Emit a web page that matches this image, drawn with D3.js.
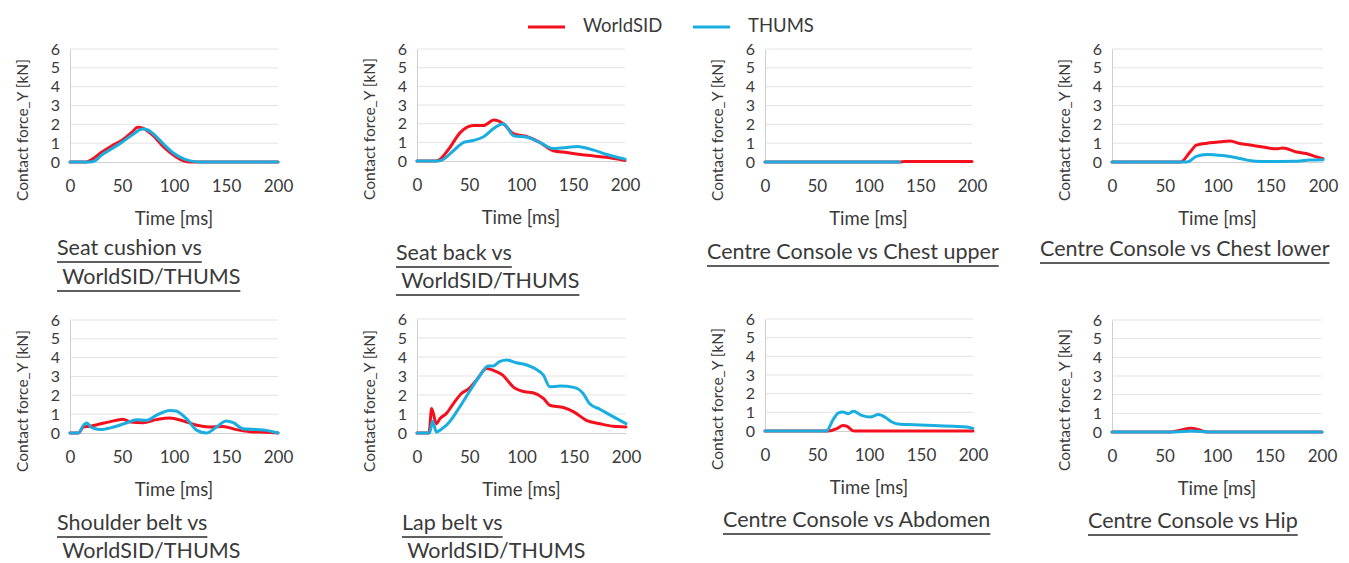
<!DOCTYPE html>
<html><head><meta charset="utf-8">
<script src="https://cdn.jsdelivr.net/npm/d3@7/dist/d3.min.js"></script>
<style>
html,body{margin:0;padding:0;background:#fff;}
svg text{font-family:Lato, "Open Sans", sans-serif;fill:#3a3a3a;}
</style></head>
<body>
<svg id="chart" width="1349" height="563"></svg>
<script>
// ---- data ----
const seriesNames = ["WorldSID", "THUMS"];
const seriesColors = ["#f5101e", "#1aaee0"];
const xTicks = [0, 50, 100, 150, 200];
const yTicks = [0, 1, 2, 3, 4, 5, 6];
const xLabel = "Time [ms]";
const yLabel = "Contact force_Y [kN]";

const seatCushionWorldSID = [[0,0],[15,0],[20,0.1],[30,0.5],[40,0.85],[50,1.15],[60,1.6],[65,1.85],[70,1.8],[80,1.4],[90,0.8],[100,0.35],[110,0.05],[115,0],[200,0]];
const seatCushionTHUMS = [[0,0],[20,0],[25,0.1],[30,0.35],[40,0.7],[50,1.05],[60,1.45],[70,1.75],[75,1.7],[80,1.5],[90,0.95],[100,0.45],[110,0.15],[120,0.02],[125,0],[200,0]];

const seatBackWorldSID = [[0,0],[18,0],[21,0.05],[30,0.6],[42,1.55],[54,1.9],[64,1.9],[74,2.2],[83,2.0],[93,1.45],[106,1.3],[118,1.0],[131,0.55],[144,0.45],[157,0.35],[170,0.27],[182,0.2],[200,0.03]];
const seatBackTHUMS = [[0,0],[20,0],[24,0.05],[35,0.55],[45,1.0],[54,1.1],[64,1.3],[74,1.75],[83,2.0],[93,1.35],[106,1.27],[118,1.0],[131,0.67],[144,0.72],[154,0.78],[170,0.58],[182,0.36],[200,0.1]];

const chestUpperWorldSID = [[0,0],[130,0],[135,0.02],[200,0.02]];
const chestUpperTHUMS = [[0,0],[130,0]];

const chestLowerWorldSID = [[0,0],[65,0],[74,0.53],[80,0.9],[90,1.0],[99,1.05],[112,1.12],[121,0.98],[131,0.9],[143,0.8],[156,0.7],[162,0.75],[175,0.53],[184,0.45],[194,0.27],[200,0.18]];
const chestLowerTHUMS = [[0,0],[71,0],[80,0.3],[90,0.4],[105,0.34],[118,0.23],[128,0.1],[143,0.02],[172,0.04],[187,0.1],[200,0.12]];

const shoulderBeltWorldSID = [[0,0],[8,0],[13,0.32],[18,0.35],[26,0.44],[38,0.59],[51,0.73],[58,0.59],[70,0.55],[83,0.71],[96,0.8],[109,0.64],[122,0.41],[134,0.32],[147,0.35],[160,0.18],[173,0.07],[189,0.04],[200,0]];
const shoulderBeltTHUMS = [[0,0],[8,0],[13,0.41],[16,0.53],[21,0.28],[29,0.18],[42,0.32],[54,0.53],[64,0.71],[74,0.68],[83,0.94],[96,1.2],[102,1.17],[112,0.76],[122,0.14],[131,0],[141,0.32],[150,0.64],[157,0.55],[166,0.23],[179,0.18],[189,0.14],[200,0]];

const lapBeltWorldSID = [[0,0],[11.5,0],[14,1.29],[18.5,0.49],[22,0.76],[28,1.02],[36,1.64],[42.5,2.08],[50,2.35],[57,2.79],[66.5,3.4],[73,3.3],[82,3.05],[92,2.43],[103,2.17],[111,2.12],[121,1.82],[127,1.46],[140,1.34],[150,1.11],[162,0.67],[175,0.49],[188,0.35],[200,0.32]];
const lapBeltTHUMS = [[0,0],[12,0],[15,0.62],[18.5,0.05],[23,0.18],[31,0.58],[41,1.38],[50,2.17],[60,3.0],[68,3.53],[73,3.53],[79,3.76],[86,3.84],[95,3.7],[105,3.58],[114,3.35],[121,3.05],[127,2.43],[137,2.47],[150,2.4],[159,2.08],[165,1.55],[175,1.25],[188,0.85],[200,0.49]];

const abdomenWorldSID = [[0,0],[61,0],[69,0.13],[75,0.3],[79,0.25],[83.5,0.04],[86,0],[200,0]];
const abdomenTHUMS = [[0,0],[59,0],[66,0.66],[70.6,0.97],[75,1.02],[80,0.93],[85,1.06],[93,0.84],[101,0.75],[109,0.88],[116,0.72],[122,0.48],[130,0.36],[143,0.34],[162,0.3],[181,0.25],[194,0.22],[200,0.14]];

const hipWorldSID = [[0,0],[56,0],[65,0.1],[75,0.2],[83,0.12],[90,0],[200,0]];
const hipTHUMS = [[0,0],[60,0],[75,0.05],[88,0.02],[95,0],[200,0]];

const panelTitles = [
  ["Seat cushion vs", " WorldSID/THUMS"],
  ["Seat back vs", " WorldSID/THUMS"],
  ["Centre Console vs Chest upper"],
  ["Centre Console vs Chest lower"],
  ["Shoulder belt vs", " WorldSID/THUMS"],
  ["Lap belt vs", " WorldSID/THUMS"],
  ["Centre Console vs Abdomen"],
  ["Centre Console vs Hip"]
];
const panelSeries = [
  [seatCushionWorldSID, seatCushionTHUMS],
  [seatBackWorldSID, seatBackTHUMS],
  [chestUpperWorldSID, chestUpperTHUMS],
  [chestLowerWorldSID, chestLowerTHUMS],
  [shoulderBeltWorldSID, shoulderBeltTHUMS],
  [lapBeltWorldSID, lapBeltTHUMS],
  [abdomenWorldSID, abdomenTHUMS],
  [hipWorldSID, hipTHUMS]
];

// ---- layout ----
const layout = [
  {x0:70,  x1:278,  y0:162, y6:49,  tx:[57,57],   ty:[250,279]},
  {x0:417, x1:625,  y0:161, y6:49,  tx:[396,396], ty:[255,283]},
  {x0:765, x1:972,  y0:162, y6:49,  tx:[707],     ty:[254]},
  {x0:1112,x1:1323, y0:162, y6:49,  tx:[1040],    ty:[251]},
  {x0:70,  x1:278,  y0:433, y6:320, tx:[57,57],   ty:[525,553]},
  {x0:417, x1:626,  y0:433, y6:319, tx:[402,402], ty:[525,553]},
  {x0:765, x1:973,  y0:431, y6:319, tx:[723],     ty:[522]},
  {x0:1112,x1:1322, y0:432, y6:320, tx:[1088],    ty:[523]}
];

const svg = d3.select("#chart");

layout.forEach((L, i) => {
  const x = d3.scaleLinear().domain([0, 200]).range([L.x0, L.x1]);
  const y = d3.scaleLinear().domain([0, 6]).range([L.y0, L.y6]);
  const g = svg.append("g");

  // gridlines
  g.selectAll("line.grid").data(yTicks.filter(d => d > 0)).join("line")
    .attr("x1", L.x0).attr("x2", L.x1)
    .attr("y1", d => y(d)).attr("y2", d => y(d))
    .attr("stroke", "#e3e3e3").attr("stroke-width", 1);

  // y axis
  const ya = g.append("g").attr("transform", `translate(${L.x0},0)`)
    .call(d3.axisLeft(y).tickValues(yTicks).tickSize(0).tickPadding(10).tickFormat(d3.format("d")));
  ya.select(".domain").attr("stroke", "#cfcfcf");
  ya.selectAll("text").style("font-size", "16px").attr("fill", "#3a3a3a");

  // x axis
  const xa = g.append("g").attr("transform", `translate(0,${L.y0})`)
    .call(d3.axisBottom(x).tickValues(xTicks).tickSize(0).tickPadding(18));
  xa.select(".domain").attr("stroke", "#cfcfcf");
  xa.selectAll("text").style("font-size", "17px").attr("fill", "#3a3a3a");

  // axis titles
  g.append("text").attr("x", (L.x0 + L.x1) / 2).attr("y", L.y0 + 58)
    .attr("text-anchor", "middle").attr("dominant-baseline", "middle")
    .style("font-size", "18.5px").text(xLabel);
  g.append("text")
    .attr("transform", `translate(${L.x0 - 46},${L.y0 - 32}) rotate(-90)`)
    .attr("text-anchor", "middle").attr("dominant-baseline", "middle")
    .style("font-size", "15.5px").text(yLabel);

  // lines
  const line = d3.line().x(d => x(d[0])).y(d => y(d[1])).curve(d3.curveMonotoneX);
  panelSeries[i].forEach((s, k) => {
    g.append("path").datum(s).attr("d", line)
      .attr("fill", "none").attr("stroke", seriesColors[k])
      .attr("stroke-width", 3).attr("stroke-linejoin", "round").attr("stroke-linecap", "round");
  });

  // titles with underline
  panelTitles[i].forEach((t, j) => {
    const tx = g.append("text").attr("x", L.tx[j]).attr("y", L.ty[j])
      .attr("dominant-baseline", "middle").style("font-size", "21.5px")
      .style("white-space", "pre").attr("xml:space", "preserve").text(t);
    const w = tx.node().getComputedTextLength();
    g.append("line").attr("x1", L.tx[j]).attr("x2", L.tx[j] + w)
      .attr("y1", L.ty[j] + 12).attr("y2", L.ty[j] + 12)
      .attr("stroke", "#2a2a2a").attr("stroke-width", 1.3);
  });
});

// legend
const legendX = [528, 693];
seriesNames.forEach((n, k) => {
  svg.append("line").attr("x1", legendX[k]).attr("x2", legendX[k] + 37)
    .attr("y1", 27).attr("y2", 27).attr("stroke", seriesColors[k]).attr("stroke-width", 3);
  svg.append("text").attr("x", legendX[k] + 55).attr("y", 27)
    .attr("dominant-baseline", "middle").style("font-size", "18.5px").text(n);
});
</script>
</body></html>
